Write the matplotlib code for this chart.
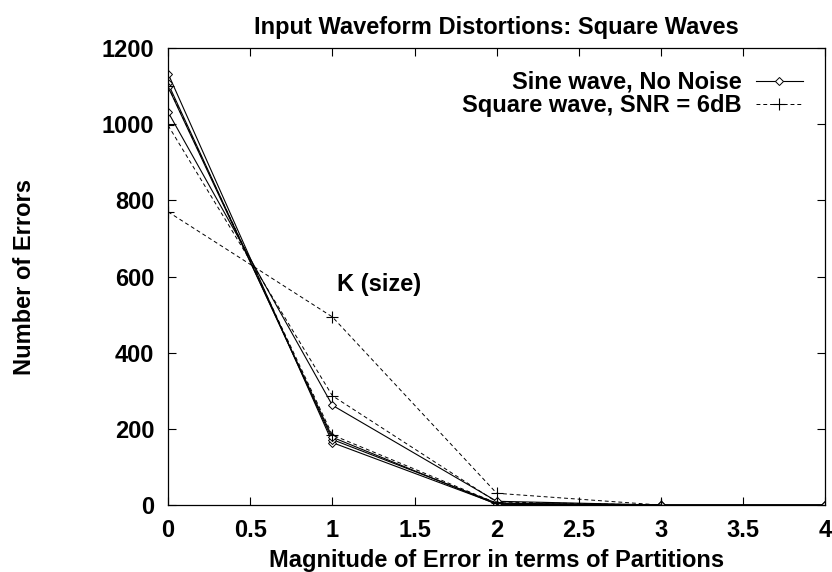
import matplotlib.pyplot as plt

plt.rcParams['font.family'] = ['Liberation Sans', 'DejaVu Sans']
plt.rcParams['font.weight'] = 'bold'

# x positions (magnitude of error, in partitions)
x_sine = [0, 1, 2, 3, 4]
x_square = [0, 1, 2, 3]

# Sine wave, no noise (solid, diamonds)
sine_a = [1133, 164, 3, 0, 0]
sine_b = [1107, 172, 5, 0, 0]
sine_c = [1098, 178, 2, 0, 0]
sine_d = [1032, 262, 10, 0, 0]

# Square wave, SNR = 6dB (dashed, plus)
square_a = [770, 494, 31, 0]
square_b = [997, 287, 8, 0]
square_c = [1100, 184, 5, 0]

xticks = [0, 0.5, 1, 1.5, 2, 2.5, 3, 3.5, 4]
xtick_labels = ['0', '0.5', '1', '1.5', '2', '2.5', '3', '3.5', '4']
yticks = [0, 200, 400, 600, 800, 1000, 1200]

fs = 17

fig = plt.figure(figsize=(8.32, 5.72), dpi=100)
ax = fig.add_axes([0.202, 0.117, 0.79, 0.799])

sine_style = dict(color='black', lw=0.8, marker='D', markersize=4.5,
                  markerfacecolor='white', markeredgecolor='black', markeredgewidth=0.7)
square_style = dict(color='black', lw=0.7, ls=(0, (4, 3)), marker='+', markersize=8,
                    markeredgewidth=0.8)

for i, ys in enumerate([sine_a, sine_b, sine_c, sine_d]):
    ax.plot(x_sine, ys, label='Sine wave, No Noise' if i == 0 else None, **sine_style)
for i, ys in enumerate([square_a, square_b, square_c]):
    ax.plot(x_square, ys, label='Square wave, SNR = 6dB' if i == 0 else None, **square_style)

ax.set_xlim(0, 4)
ax.set_ylim(0, 1200)
ax.set_xticks(xticks)
ax.set_xticklabels(xtick_labels)
ax.set_yticks(yticks)
ax.tick_params(direction='in', top=True, right=True, length=6, width=0.8,
               labelsize=fs)
ax.tick_params(axis='x', pad=10)
ax.tick_params(axis='y', pad=10)
for lab in ax.get_xticklabels() + ax.get_yticklabels():
    lab.set_fontweight('bold')
for sp in ax.spines.values():
    sp.set_linewidth(0.9)

ax.set_title('Input Waveform Distortions: Square Waves', fontsize=fs,
             fontweight='bold', pad=10)
ax.set_xlabel('Magnitude of Error in terms of Partitions', fontsize=fs,
              fontweight='bold', labelpad=5)
ax.set_ylabel('Number of Errors', fontsize=fs, fontweight='bold', labelpad=47)
ax.text(1.03, 580, 'K (size)', fontsize=fs, fontweight='bold', va='center')

ax.legend(loc='upper right', bbox_to_anchor=(0.966, 0.95), frameon=False,
          markerfirst=False, handlelength=2.0, handletextpad=0.6,
          labelspacing=0.0, borderaxespad=0, borderpad=0,
          prop={'weight': 'bold', 'size': fs})

fig.savefig('out.png', dpi=100)
